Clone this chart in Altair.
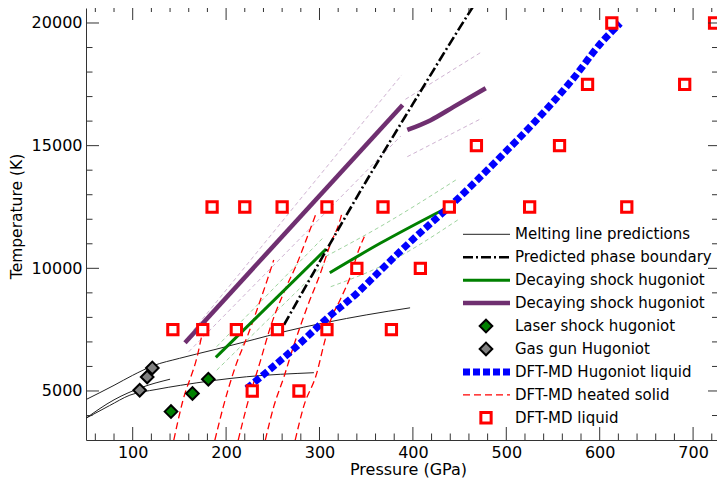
import altair as alt
import pandas as pd

# ---------------- data ----------------
x_major = [100, 200, 300, 400, 500, 600, 700]
y_major = [5000, 10000, 15000, 20000]

# Melting line predictions (three thin curves)
melt1_p = [50, 80, 100, 122, 150, 187, 230, 258, 308, 350, 397]
melt1_t = [4650, 5230, 5640, 6030, 6330, 6680, 7100, 7380, 7800, 8100, 8390]
melt2_p = [50, 80, 110, 140]
melt2_t = [3890, 4640, 5150, 5480]
melt3_p = [50, 75, 97, 125, 151, 222, 294]
melt3_t = [3890, 4400, 4830, 5060, 5230, 5580, 5745]

# Predicted phase boundary
phase_p = [262, 300, 350, 400, 450, 480]
phase_t = [7700, 10250, 13550, 16700, 19800, 21600]

# Decaying shock hugoniot (green) + uncertainty bands
green1_p = [189, 307]
green1_t = [6370, 10780]
green2_p = [311, 365, 433]
green2_t = [9820, 11020, 12400]
green1_hi_p = [190, 305]
green1_hi_t = [6810, 11290]
green1_lo_p = [190, 308]
green1_lo_t = [5850, 10270]
green2_hi_p = [300, 365, 448]
green2_hi_t = [10350, 11700, 13650]
green2_lo_p = [312, 365, 448]
green2_lo_t = [9250, 10070, 11970]

# Decaying shock hugoniot (purple) + uncertainty bands
purple1_p = [156, 389]
purple1_t = [6970, 16660]
purple2_p = [394, 419, 444, 478]
purple2_t = [15640, 16040, 16590, 17340]
purple1_hi_p = [165, 388]
purple1_hi_t = [7480, 17880]
purple1_lo_p = [160, 387]
purple1_lo_t = [6600, 15390]
purple2_hi_p = [392, 474]
purple2_hi_t = [16890, 18830]
purple2_lo_p = [394, 474]
purple2_lo_t = [14550, 16120]

# Laser shock / gas gun Hugoniot points
laser_p = [141, 164, 181]
laser_t = [4160, 4900, 5480]
gas_p = [107.5, 115.5, 121]
gas_t = [5030, 5570, 5940]

# DFT-MD Hugoniot liquid
hug_p = [222, 244, 275, 308, 340, 355, 400, 439, 494, 529, 572, 601, 622]
hug_t = [5100, 5790, 6800, 7960, 8980, 9530, 11180, 12510, 14550, 15910, 17750, 19170, 19990]

# DFT-MD heated solid (five red dashed curves)
solid1_p = [144, 153, 169, 176, 188]
solid1_t = [3000, 4500, 6400, 7550, 8300]
solid2_p = [188, 197, 210, 224, 233, 244, 251]
solid2_t = [3000, 4360, 6000, 7350, 8300, 9520, 10340]
solid3_p = [213, 222, 237, 247, 263, 276, 287, 297]
solid3_t = [3000, 4360, 6260, 7550, 9120, 10200, 11290, 12300]
solid4_p = [242, 251, 262, 272, 287, 301, 312, 321, 324]
solid4_t = [3000, 4360, 5580, 6800, 8440, 9800, 11020, 11840, 12240]
solid5_p = [274, 283, 297, 305, 312, 322, 333, 342, 348]
solid5_t = [3000, 4360, 5720, 6940, 7890, 8710, 9660, 10750, 11290]

# DFT-MD liquid (open squares)
liq_p = [228, 278,
         143, 175, 211, 255, 308, 377,
         340, 408,
         185, 220, 260, 308, 368, 439, 525, 629,
         468, 557,
         587, 691,
         613, 723]
liq_t = [5000, 5000,
         7500, 7500, 7500, 7500, 7500, 7500,
         10000, 10000,
         12500, 12500, 12500, 12500, 12500, 12500, 12500, 12500,
         15000, 15000,
         17500, 17500,
         20000, 20000]

legend_labels = [
    "Melting line predictions",
    "Predicted phase boundary",
    "Decaying shock hugoniot",
    "Decaying shock hugoniot",
    "Laser shock hugoniot",
    "Gas gun Hugoniot",
    "DFT-MD Hugoniot liquid",
    "DFT-MD heated solid",
    "DFT-MD liquid",
]

# ---------------- styling / layout ----------------
W, H = 631, 432
FONT = "DejaVu Sans"
PURPLE = "#6f2f70"
GREEN = "#008000"
BLUE = "#0000ff"
RED = "#ff0000"
TICK = "#333333"

xs = alt.Scale(domain=[50, 725.6], nice=False, zero=False)
ys = alt.Scale(domain=[3002, 20611], nice=False, zero=False)

x_axis = alt.Axis(
    title="Pressure (GPa)", values=x_major, format="d", ticks=False, tickSize=0,
    grid=False, domain=True, domainColor=TICK, domainWidth=1,
    labelFont=FONT, labelFontSize=16, labelColor="black", labelPadding=4,
    labelFlush=False, titleFont=FONT, titleFontSize=16, titleFontWeight="normal",
    titleColor="black", titleX=322, titleY=34.5, titleBaseline="alphabetic",
)
y_axis = alt.Axis(
    title="Temperature (K)", values=y_major, format="d", ticks=False, tickSize=0,
    grid=False, domain=True, domainColor=TICK, domainWidth=1,
    labelFont=FONT, labelFontSize=16, labelColor="black", labelPadding=4,
    labelFlush=False, titleFont=FONT, titleFontSize=15.5, titleFontWeight="normal",
    titleColor="black", titleX=-69.5, titleY=208, titleBaseline="middle",
)


def X():
    return alt.X("p:Q", scale=xs, axis=x_axis)


def Y():
    return alt.Y("t:Q", scale=ys, axis=y_axis)


def curves(*pairs):
    rows = []
    for k, (ps, ts) in enumerate(pairs):
        for i, (p, t) in enumerate(zip(ps, ts)):
            rows.append({"c": k, "i": i, "p": p, "t": t})
    return pd.DataFrame(rows)


def lines(df, **style):
    return alt.Chart(df).mark_line(clip=True, **style).encode(
        x=X(), y=Y(), detail="c:N", order="i:Q")


layers = []

# melting lines
layers.append(lines(curves((melt1_p, melt1_t), (melt2_p, melt2_t), (melt3_p, melt3_t)),
                    color="#222222", strokeWidth=1, interpolate="monotone"))
# uncertainty bands
layers.append(lines(curves((green1_hi_p, green1_hi_t), (green1_lo_p, green1_lo_t),
                           (green2_hi_p, green2_hi_t), (green2_lo_p, green2_lo_t)),
                    color="#9fd49f", strokeWidth=1, strokeDash=[4, 3], interpolate="monotone"))
layers.append(lines(curves((purple1_hi_p, purple1_hi_t), (purple1_lo_p, purple1_lo_t),
                           (purple2_hi_p, purple2_hi_t), (purple2_lo_p, purple2_lo_t)),
                    color="#cfb3d2", strokeWidth=1, strokeDash=[4, 3], interpolate="monotone"))
# heated solid
layers.append(lines(curves((solid1_p, solid1_t), (solid2_p, solid2_t), (solid3_p, solid3_t),
                           (solid4_p, solid4_t), (solid5_p, solid5_t)),
                    color=RED, strokeWidth=1.3, strokeDash=[7, 4], interpolate="monotone"))
# decaying shock
layers.append(lines(curves((green1_p, green1_t), (green2_p, green2_t)),
                    color=GREEN, strokeWidth=3, interpolate="monotone"))
layers.append(lines(curves((purple1_p, purple1_t), (purple2_p, purple2_t)),
                    color=PURPLE, strokeWidth=4.5, interpolate="monotone"))
# phase boundary
layers.append(lines(curves((phase_p, phase_t)),
                    color="black", strokeWidth=2.6, strokeDash=[10, 3, 2, 3], interpolate="monotone"))
# DFT-MD hugoniot
layers.append(lines(curves((hug_p, hug_t)),
                    color=BLUE, strokeWidth=7, strokeDash=[7, 3], strokeCap="butt",
                    interpolate="monotone"))

# points
layers.append(alt.Chart(pd.DataFrame({"p": laser_p, "t": laser_t})).mark_point(
    shape="diamond", size=160, fill=GREEN, stroke="black", strokeWidth=2,
    opacity=1, fillOpacity=1).encode(x=X(), y=Y()))
layers.append(alt.Chart(pd.DataFrame({"p": gas_p, "t": gas_t})).mark_point(
    shape="diamond", size=160, fill="#808080", stroke="black", strokeWidth=2,
    opacity=1, fillOpacity=1).encode(x=X(), y=Y()))
layers.append(alt.Chart(pd.DataFrame({"p": liq_p, "t": liq_t})).mark_point(
    shape="square", size=106, fill="white", stroke=RED, strokeWidth=3,
    opacity=1, fillOpacity=1).encode(x=X(), y=Y()))

# tick marks (inward, matplotlib style)
x_minor = [v for v in range(60, 726, 20) if v % 100 != 0]
y_minor = [v for v in range(4000, 20611, 1000) if v % 5000 != 0]
dfx_major = pd.DataFrame({"p": x_major})
dfx_minor = pd.DataFrame({"p": x_minor})
dfy_major = pd.DataFrame({"t": y_major})
dfy_minor = pd.DataFrame({"t": y_minor})


def xtick(df, y0, y1):
    return alt.Chart(df).mark_rule(color=TICK, strokeWidth=1).encode(
        x=X(), y=alt.value(y0), y2=alt.value(y1))


def ytick(df, x0, x1):
    return alt.Chart(df).mark_rule(color=TICK, strokeWidth=1).encode(
        y=Y(), x=alt.value(x0), x2=alt.value(x1))


layers += [
    xtick(dfx_major, H - 13, H), xtick(dfx_minor, H - 6.5, H),
    xtick(dfx_major, 0, 12), xtick(dfx_minor, 0, 4),
    ytick(dfy_major, 0, 13), ytick(dfy_minor, 0, 6.5),
    ytick(dfy_major, W - 9, W), ytick(dfy_minor, W - 5, W),
]

# manual legend
LX0, LX1, LXM, LXT = 377, 424, 400, 429
LY0, LDY = 226.3, 22.93
one = pd.DataFrame({"k": [0]})


def ly(i):
    return LY0 + i * LDY


def leg_line(i, **style):
    return alt.Chart(one).mark_rule(**style).encode(
        x=alt.value(LX0), x2=alt.value(LX1), y=alt.value(ly(i)))


def leg_point(i, **style):
    return alt.Chart(one).mark_point(opacity=1, fillOpacity=1, **style).encode(
        x=alt.value(LXM), y=alt.value(ly(i)))


layers += [
    leg_line(0, color="#222222", strokeWidth=1),
    leg_line(1, color="black", strokeWidth=2.6, strokeDash=[10, 3, 2, 3]),
    leg_line(2, color=GREEN, strokeWidth=3),
    leg_line(3, color=PURPLE, strokeWidth=4.5),
    leg_point(4, shape="diamond", size=160, fill=GREEN, stroke="black", strokeWidth=2),
    leg_point(5, shape="diamond", size=160, fill="#808080", stroke="black", strokeWidth=2),
    leg_line(6, color=BLUE, strokeWidth=7, strokeDash=[7, 3], strokeCap="butt"),
    leg_line(7, color=RED, strokeWidth=1.3, strokeDash=[7, 4]),
    leg_point(8, shape="square", size=106, fill="white", stroke=RED, strokeWidth=3),
]
for i, lab in enumerate(legend_labels):
    layers.append(alt.Chart(one).mark_text(
        align="left", baseline="middle", font=FONT, fontSize=15, color="black").encode(
        x=alt.value(LXT), y=alt.value(ly(i)), text=alt.value(lab)))

chart = alt.layer(*layers).properties(
    width=W, height=H,
    padding={"left": 78, "top": 0, "right": 0, "bottom": 40},
    autosize=alt.AutoSizeParams(type="none"),
    background="white",
).configure_view(stroke=None)

chart.save("out.html", embed_options={"renderer": "svg", "actions": False})
